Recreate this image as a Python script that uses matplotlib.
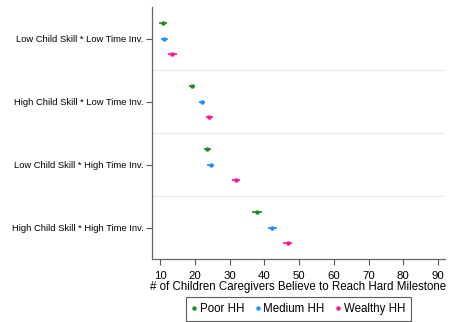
import matplotlib
matplotlib.use("Agg")
import matplotlib.pyplot as plt
from matplotlib.lines import Line2D

plt.rcParams['font.family'] = ['Liberation Sans', 'DejaVu Sans']

categories = ["Low Child Skill * Low Time Inv.",
              "High Child Skill * Low Time Inv.",
              "Low Child Skill * High Time Inv.",
              "High Child Skill * High Time Inv."]
series = ["Poor HH", "Medium HH", "Wealthy HH"]
poor = [10.8, 19.1, 23.5, 37.8]
medium = [11.1, 22.0, 24.5, 42.3]
wealthy = [13.5, 24.1, 31.8, 46.7]
poor_ci = [1.1, 0.9, 1.0, 1.5]
medium_ci = [1.0, 1.0, 1.0, 1.3]
wealthy_ci = [1.2, 1.0, 1.1, 1.3]
colors = ["#1f8c1f", "#1e90ff", "#ff1493"]
xticks = [10, 20, 30, 40, 50, 60, 70, 80, 90]

fig = plt.figure(figsize=(4.5, 3.22), dpi=100)
ax = fig.add_axes([152/450, 1-259/322, (445-152)/450, (259-7)/322])

offsets = [-0.25, 0.0, 0.25]
for vals, ci, col, off in zip([poor, medium, wealthy], [poor_ci, medium_ci, wealthy_ci], colors, offsets):
    ys = [i + off for i in range(len(categories))]
    ax.errorbar(vals, ys, xerr=ci, fmt='o', color=col, ms=2.2, elinewidth=1.2,
                capsize=0, zorder=3)

for b in [0.5, 1.5, 2.5]:
    ax.axhline(b, color="#e6edf0", lw=1, zorder=1)

ax.set_ylim(3.5, -0.5)
ax.set_xlim(7.6, 92.0)
ax.set_yticks(range(len(categories)))
ax.set_yticklabels(categories, fontsize=6.75)
ax.set_xticks(xticks)
ax.set_xticklabels([str(t) for t in xticks], fontsize=8.2)
ax.set_xlabel("# of Children Caregivers Believe to Reach Hard Milestone", fontsize=8.3, labelpad=0)
ax.tick_params(axis='both', color="#555555", length=4.5, width=0.8)
ax.tick_params(axis='x', pad=4)
ax.tick_params(axis='y', pad=1.5)
for s in ['top', 'right']:
    ax.spines[s].set_visible(False)
for s in ['left', 'bottom']:
    ax.spines[s].set_color("#666666")
    ax.spines[s].set_linewidth(0.9)

handles = [Line2D([], [], marker='o', ls='none', color=c, ms=2.2) for c in colors]
leg = fig.legend(handles, series, loc='center', bbox_to_anchor=(298.5/450, 1-309/322), ncol=3,
                 fontsize=8.3, frameon=True, fancybox=False, handlelength=0.4,
                 handletextpad=0.3, columnspacing=0.95, borderpad=0.5)
leg.get_frame().set_edgecolor("#333333")
leg.get_frame().set_linewidth(0.8)

fig.savefig("out.png", dpi=100)
